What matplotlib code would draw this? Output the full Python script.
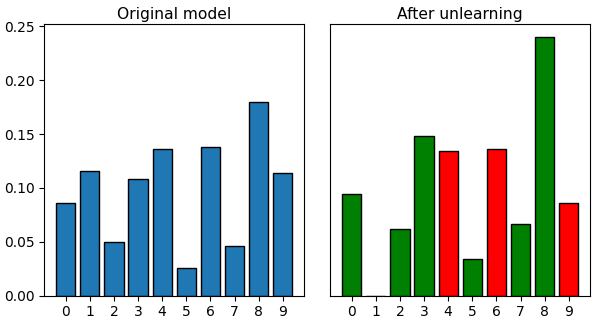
import numpy as np
import matplotlib
matplotlib.use('Agg')
import matplotlib.pyplot as plt

classes = ['0','1','2','3','4','5','6','7','8','9']
original = [0.086,0.116,0.050,0.108,0.136,0.026,0.138,0.046,0.180,0.114]
unlearned = [0.094,0.0,0.062,0.148,0.134,0.034,0.136,0.066,0.240,0.086]
# green = went up / kept, red = went down
bar_colors = ['green','green','green','green','red','green','red','green','green','red']

fig, (ax1, ax2) = plt.subplots(1, 2, figsize=(5.98,3.23), dpi=100, sharey=True)
plt.subplots_adjust(left=0.074, right=0.987, bottom=0.085, top=0.925, wspace=0.1)

x = np.arange(len(classes))
ax1.bar(x, original, color='tab:blue', edgecolor='black', linewidth=1)
ax1.set_title('Original model', fontsize=11.2, pad=4)
ax2.bar(x, unlearned, color=bar_colors, edgecolor='black', linewidth=1)
ax2.set_title('After unlearning', fontsize=11.2, pad=4)

for ax in (ax1, ax2):
	ax.set_xticks(x)
	ax.set_xticklabels(classes)
	ax.tick_params(labelsize=10)
ax2.tick_params(left=False)

plt.savefig('out.png')
